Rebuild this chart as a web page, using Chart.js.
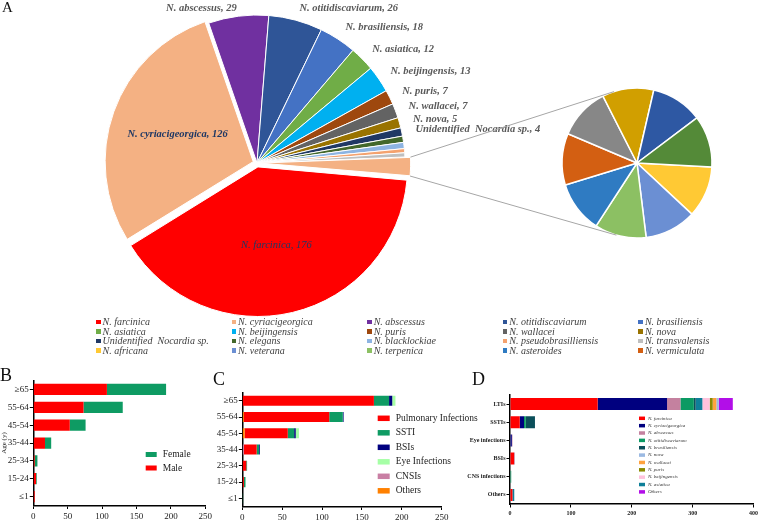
<!DOCTYPE html>
<html>
<head>
<meta charset="utf-8">
<title>Nocardia species, age and infection site</title>
<script src="https://cdn.jsdelivr.net/npm/chart.js@4.4.1/dist/chart.umd.min.js"></script>
<style>
  body { margin: 0; background: #fff; }
  #fig { position: relative; width: 760px; height: 524px; overflow: hidden; font-family: 'Liberation Serif', serif; }
  canvas, .tag, #legendA { position: absolute; }
  .tag { font-size: 18px; line-height: 18px; color: #111; }
  #legendA { left: 96px; top: 317px; display: grid; grid-template-columns: repeat(5, 135.6px); grid-auto-rows: 9.67px;
             font: italic 10px/9.67px 'Liberation Serif', serif; color: #404040; white-space: pre; }
  #legendA i { display: inline-block; width: 4.5px; height: 4.5px; margin-right: 2px; vertical-align: 1px; }
</style>
</head>
<body>
<div id="fig">
  <canvas id="pieMain" width="560" height="320" style="left:0;top:0"></canvas>
  <canvas id="pieSub" width="360" height="320" style="left:400px;top:0"></canvas>
  <div id="legendA"></div>
  <canvas id="chartB" width="215" height="164" style="left:0;top:360px"></canvas>
  <canvas id="chartC" width="300" height="164" style="left:205px;top:360px"></canvas>
  <canvas id="chartD" width="305" height="164" style="left:455px;top:360px"></canvas>
  <div class="tag" style="left:2px;top:0;font-size:15px;line-height:15px">A</div>
  <div class="tag" style="left:0;top:366px">B</div>
  <div class="tag" style="left:213px;top:370px">C</div>
  <div class="tag" style="left:472px;top:370px">D</div>
</div>
<script>
// ---- panel A: species (main pie + pie of "other") ----
const mainNames = ['N. farcinica', 'N. cyriacigeorgica', 'N. abscessus', 'N. otitidiscaviarum', 'N. brasiliensis',
  'N. asiatica', 'N. beijingensis', 'N. puris', 'N. wallacei', 'N. nova', 'Unidentified  Nocardia sp.',
  'N. elegans', 'N. blacklockiae', 'N. pseudobrasilliensis', 'N. transvalensis', 'Others'];
const subNames = ['N. africana', 'N. veterana', 'N. terpenica', 'N. asteroides', 'N. vermiculata'];
// 9 species with one isolate each; only the first five are named in the legend
const subValues = [1, 1, 1, 1, 1, 1, 1, 1, 1];
const mainValues = [176, 126, 29, 26, 18, 12, 13, 7, 7, 5, 4, 3, 3, 2, 2, subValues.reduce((a, b) => a + b, 0)];

const mainColors = ['#FF0000', '#F4B183', '#7030A0', '#2F5597', '#4472C4', '#70AD47', '#00B0F0', '#9E480E',
  '#636363', '#997300', '#203864', '#43682B', '#8DB4E2', '#F4A26E', '#BFBFBF', '#F4B183'];
const mainOffsets = [16, 16, 0, 0, 0, 0, 0, 0, 0, 0, 0, 0, 0, 0, 0, 12];
const subColors = ['#FFC934', '#6B8FD3', '#8CC063', '#2F7BC2', '#D35F12', '#878787', '#D19F00', '#2E58A3', '#548A38'];

// ---- panel B: age x sex ----
const ageGroups = ['≥65', '55-64', '45-54', '35-44', '25-34', '15-24', '≤1'];
const maleCounts = [107, 73, 53, 17, 2, 4, 2];
const femaleCounts = [86, 57, 23, 9, 4, 1, 0];

// ---- panel C: age x infection type ----
const pulmonary = [165, 107, 54, 16, 5, 2, 0];
const ssti = [19, 17, 8, 3, 1, 2, 1];
const bsi = [4, 1, 2, 1, 0, 0, 0];
const eye = [4, 0, 4, 0, 0, 0, 0];
const cnsi = [0, 0, 0, 2, 0, 0, 0];
const othersC = [0, 2, 3, 0, 0, 0, 0];

// ---- panel D: infection site x species ----
const sites = ['LTIs', 'SSTIs', 'Eye infections', 'BSIs', 'CNS infections', 'Others'];
const dFarcinica = [144, 16, 0, 7, 0, 4];
const dCyriacigeorgica = [114, 7, 3, 0, 0, 0];
const dAbscessus = [22, 0, 1, 0, 0, 0];
const dOtitidiscaviarum = [22, 3, 0, 0, 2, 0];
const dBrasiliensis = [3, 15, 0, 0, 0, 0];
const dAsiatica = [11, 0, 0, 0, 0, 3];
const dBeijingensis = [12, 0, 0, 0, 0, 0];
const dPuris = [5, 0, 0, 0, 0, 0];
const dWallacei = [6, 0, 0, 0, 0, 0];
const dNova = [4, 0, 0, 1, 0, 0];
const dOthers = [23, 0, 0, 0, 0, 0];

Chart.defaults.font.family = "'Liberation Serif', serif";
Chart.defaults.animation = false;
Chart.defaults.plugins.legend.display = false;
Chart.defaults.plugins.tooltip.enabled = false;

// labels around / inside the main pie
const pieLabels = {
  id: 'pieLabels',
  afterDatasetsDraw(chart) {
    const ctx = chart.ctx;
    const arcs = chart.getDatasetMeta(0).data;
    ctx.save();
    ctx.textBaseline = 'middle';
    arcs.forEach((arc, i) => {
      if (i > 10) return;
      const mid = (arc.startAngle + arc.endAngle) / 2;
      const inside = i < 2;
      const r = inside ? arc.outerRadius * 0.57 : arc.outerRadius + 14;
      const x = arc.x + Math.cos(mid) * r;
      const y = Math.max(arc.y + Math.sin(mid) * r, 8);
      ctx.font = (i === 0 ? 'italic ' : 'italic bold ') + "10.5px 'Liberation Serif'";
      ctx.fillStyle = inside ? '#1F3864' : '#595959';
      ctx.textAlign = inside ? 'center' : (Math.cos(mid) >= 0 ? 'left' : 'right');
      ctx.fillText(mainNames[i] + ', ' + mainValues[i], x, y);
    });
    ctx.restore();
  }
};

// grey connector lines from the "other" slice to the second pie
const leaderLines = {
  id: 'leaderLines',
  afterDraw(chart) {
    const arc = mainChart.getDatasetMeta(0).data[mainValues.length - 1];
    const sub = chart.getDatasetMeta(0).data[0];
    const a = mainChart.canvas.getBoundingClientRect();
    const b = chart.canvas.getBoundingClientRect();
    const mid = (arc.startAngle + arc.endAngle) / 2;
    const shift = arc.options.offset / 4 * (2 - Math.sin(Math.min(Math.PI, arc.circumference)));
    const ctx = chart.ctx;
    ctx.save();
    ctx.strokeStyle = '#A6A6A6';
    ctx.lineWidth = 1;
    [[arc.startAngle, 1], [arc.endAngle, -1]].forEach(([ang, side]) => {
      const px = a.left - b.left + arc.x + Math.cos(ang) * arc.outerRadius + Math.cos(mid) * shift;
      const py = a.top - b.top + arc.y + Math.sin(ang) * arc.outerRadius + Math.sin(mid) * shift;
      const d = Math.hypot(px - sub.x, py - sub.y);
      const t = Math.atan2(py - sub.y, px - sub.x) + side * Math.acos(sub.outerRadius / d);
      ctx.beginPath();
      ctx.moveTo(px, py);
      ctx.lineTo(sub.x + Math.cos(t) * sub.outerRadius, sub.y + Math.sin(t) * sub.outerRadius);
      ctx.stroke();
    });
    ctx.restore();
  }
};

// small boxed legends for B, C, D
const boxLegend = {
  id: 'boxLegend',
  afterDraw(chart, args, opts) {
    const ctx = chart.ctx;
    ctx.save();
    ctx.font = opts.font;
    ctx.textBaseline = 'middle';
    ctx.textAlign = 'left';
    opts.order.forEach((di, i) => {
      const ds = chart.data.datasets[di];
      const y = opts.y + i * opts.rowH;
      ctx.fillStyle = ds.backgroundColor;
      ctx.fillRect(opts.x, y - opts.boxH / 2, opts.boxW, opts.boxH);
      ctx.fillStyle = opts.color;
      ctx.fillText(ds.label, opts.x + opts.boxW + opts.gap, y);
    });
    ctx.restore();
  }
};

const mainChart = new Chart(document.getElementById('pieMain'), {
  type: 'pie',
  data: {
    labels: mainNames,
    datasets: [{ data: mainValues, backgroundColor: mainColors, borderColor: '#fff', borderWidth: 1,
                 offset: mainOffsets, hoverOffset: 0 }]
  },
  options: {
    responsive: false,
    rotation: 95,
    layout: { padding: { left: 100.5, right: 146.5, top: 6.5, bottom: 0.5 } }
  },
  plugins: [pieLabels]
});

new Chart(document.getElementById('pieSub'), {
  type: 'pie',
  data: {
    labels: subNames,
    datasets: [{ data: subValues, backgroundColor: subColors, borderColor: '#fff', borderWidth: 1.5, hoverOffset: 0 }]
  },
  options: {
    responsive: false,
    rotation: 93,
    layout: { padding: { left: 161.25, right: 47.25, top: 87.25, bottom: 81.25 } }
  },
  plugins: [leaderLines]
});

const legendA = document.getElementById('legendA');
mainNames.slice(0, 15).map((n, i) => [n, mainColors[i]])
  .concat(subNames.map((n, i) => [n, subColors[i]]))
  .forEach(([n, c]) => {
    const d = document.createElement('div');
    d.innerHTML = `<i style="background:${c}"></i>${n}`;
    legendA.appendChild(d);
  });

function xAxis(max, step, height, font) {
  return {
    stacked: true, min: 0, max: max,
    ticks: { stepSize: step, font: font, color: '#222', padding: 2, maxRotation: 0 },
    grid: { drawOnChartArea: false, color: '#000', tickLength: 3.5 },
    border: { color: '#000', width: 1.5 },
    afterFit: s => { s.height = height; }
  };
}

function yAxis(width, font, title) {
  return {
    stacked: true,
    ticks: { font: font, color: '#222', padding: 1, autoSkip: false },
    grid: { drawOnChartArea: false, offset: false, color: '#000', tickLength: 3.5 },
    border: { color: '#000', width: 1.5 },
    title: { display: !!title, text: title || '', font: { size: 7 }, color: '#222', padding: 0 },
    afterFit: s => { s.width = width; }
  };
}

new Chart(document.getElementById('chartB'), {
  type: 'bar',
  data: {
    labels: ageGroups,
    datasets: [
      { label: 'Male', data: maleCounts, backgroundColor: '#FF0000' },
      { label: 'Female', data: femaleCounts, backgroundColor: '#0E9B63' }
    ]
  },
  options: {
    indexAxis: 'y',
    responsive: false,
    datasets: { bar: { barPercentage: 0.63, categoryPercentage: 1 } },
    layout: { padding: { top: 20.5, right: 9.7 } },
    plugins: {
      boxLegend: { x: 145.7, y: 94.5, rowH: 13.5, boxW: 11, boxH: 5, gap: 6, order: [1, 0],
                   font: "9.5px 'Liberation Serif'", color: '#222' }
    },
    scales: { x: xAxis(250, 50, 18.5, { size: 9 }), y: yAxis(33.3, { size: 9 }, 'Age (y)') }
  },
  plugins: [boxLegend]
});

new Chart(document.getElementById('chartC'), {
  type: 'bar',
  data: {
    labels: ageGroups,
    datasets: [
      { label: 'Others', data: othersC, backgroundColor: '#FF8000' },
      { label: 'CNSIs', data: cnsi, backgroundColor: '#C97FA4' },
      { label: 'Pulmonary Infections', data: pulmonary, backgroundColor: '#FF0000' },
      { label: 'SSTI', data: ssti, backgroundColor: '#0E9B63' },
      { label: 'BSIs', data: bsi, backgroundColor: '#00007F' },
      { label: 'Eye Infections', data: eye, backgroundColor: '#A6FFA6' }
    ]
  },
  options: {
    indexAxis: 'y',
    responsive: false,
    datasets: { bar: { barPercentage: 0.62, categoryPercentage: 1 } },
    layout: { padding: { top: 32.6, right: 63.3 } },
    plugins: {
      boxLegend: { x: 172.7, y: 58.3, rowH: 14.5, boxW: 12, boxH: 5.5, gap: 6, order: [2, 3, 4, 5, 1, 0],
                   font: "9.5px 'Liberation Serif'", color: '#222' }
    },
    scales: { x: xAxis(250, 50, 17.5, { size: 9 }), y: yAxis(37.3, { size: 9 }) }
  },
  plugins: [boxLegend]
});

new Chart(document.getElementById('chartD'), {
  type: 'bar',
  data: {
    labels: sites,
    datasets: [
      { label: 'N. farcinica', data: dFarcinica, backgroundColor: '#FF0000' },
      { label: 'N. cyriacigeorgica', data: dCyriacigeorgica, backgroundColor: '#00007F' },
      { label: 'N. abscessus', data: dAbscessus, backgroundColor: '#C4819F' },
      { label: 'N. otitidiscaviarum', data: dOtitidiscaviarum, backgroundColor: '#0B9A63' },
      { label: 'N. brasiliensis', data: dBrasiliensis, backgroundColor: '#0B4F5A' },
      { label: 'N. asiatica', data: dAsiatica, backgroundColor: '#0E7F99' },
      { label: 'N. beijingensis', data: dBeijingensis, backgroundColor: '#FFC2DD' },
      { label: 'N. puris', data: dPuris, backgroundColor: '#8A8A00' },
      { label: 'N. wallacei', data: dWallacei, backgroundColor: '#FFA23F' },
      { label: 'N. nova', data: dNova, backgroundColor: '#9BB9E2' },
      { label: 'Others', data: dOthers, backgroundColor: '#B20EE8' }
    ]
  },
  options: {
    indexAxis: 'y',
    responsive: false,
    datasets: { bar: { barPercentage: 0.66, categoryPercentage: 1 } },
    layout: { padding: { top: 35, right: 5.7 } },
    plugins: {
      boxLegend: { x: 184, y: 58.3, rowH: 7.36, boxW: 6, boxH: 3.5, gap: 3, order: [0, 1, 2, 3, 4, 9, 8, 7, 6, 5, 10],
                   font: "italic 5px 'Liberation Serif'", color: '#333' }
    },
    scales: {
      x: xAxis(400, 100, 20, { size: 6, weight: 'bold' }),
      y: yAxis(55, { size: 6, weight: 'bold' })
    }
  },
  plugins: [boxLegend]
});
</script>
</body>
</html>
